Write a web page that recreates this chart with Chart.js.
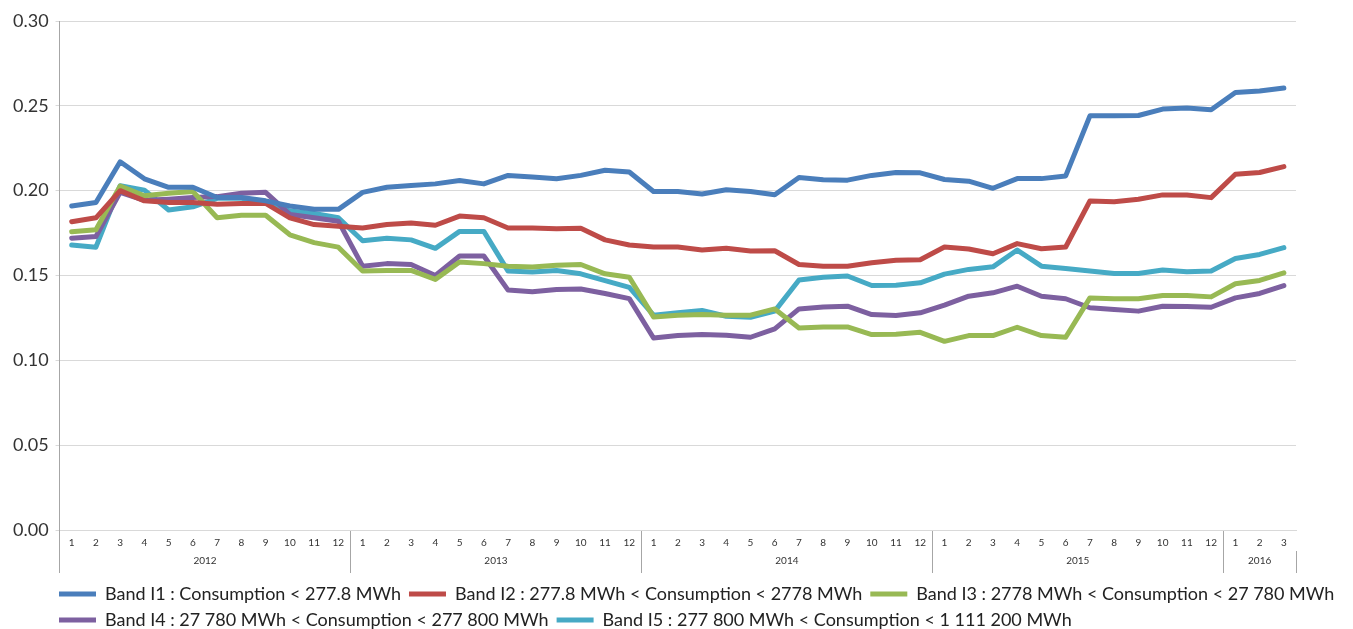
<!DOCTYPE html>
<html>
<head>
<meta charset="utf-8">
<script src="https://cdn.jsdelivr.net/npm/chart.js@4/dist/chart.umd.min.js"></script>
<style>
html, body { margin: 0; padding: 0; background: #fff; }
#wrap { width: 1353px; height: 629px; }
</style>
</head>
<body>
<div id="wrap"><canvas id="myChart"></canvas></div>
<script>
// categories
const years = ["2012", "2013", "2014", "2015", "2016"];
const monthsPerYear = [12, 12, 12, 12, 3];
const monthLabels = [];
monthsPerYear.forEach(n => { for (let m = 1; m <= n; m++) monthLabels.push(String(m)); });

// series
const bandI1 = [
  0.191, 0.193, 0.217, 0.207, 0.202, 0.202, 0.196, 0.196, 0.194, 0.191, 0.189, 0.189,
  0.199, 0.202, 0.203, 0.204, 0.206, 0.204, 0.209, 0.208, 0.207, 0.209, 0.212, 0.211,
  0.1995, 0.1995, 0.198, 0.2005, 0.1995, 0.1976, 0.2078, 0.2064, 0.2062, 0.209, 0.2107, 0.2105,
  0.2066, 0.2056, 0.2014, 0.2071, 0.2071, 0.2087, 0.2441, 0.2441, 0.2443, 0.2481, 0.2487, 0.2477,
  0.2579, 0.2587, 0.2605
];
const bandI2 = [
  0.1817, 0.184, 0.200, 0.194, 0.193, 0.193, 0.192, 0.1925, 0.1925, 0.184, 0.180, 0.179,
  0.178, 0.180, 0.181, 0.1796, 0.185, 0.184, 0.178, 0.178, 0.1776, 0.1778, 0.171, 0.168,
  0.1668, 0.1668, 0.165, 0.166, 0.1644, 0.1646, 0.1565, 0.1555, 0.1555, 0.1575, 0.159, 0.1593,
  0.1668, 0.1656, 0.1628, 0.1688, 0.1658, 0.1668, 0.1939, 0.1935, 0.1949, 0.1975, 0.1975, 0.1959,
  0.2097, 0.2107, 0.2142
];
const bandI3 = [
  0.1758, 0.177, 0.2027, 0.197, 0.1985, 0.1995, 0.184, 0.1855, 0.1855, 0.174, 0.1694, 0.1667,
  0.1526, 0.153, 0.153, 0.1477, 0.158, 0.157, 0.1555, 0.155, 0.156, 0.1565, 0.151, 0.149,
  0.1256, 0.1266, 0.127, 0.1266, 0.1266, 0.1303, 0.1191, 0.1197, 0.1197, 0.1152, 0.1154, 0.1165,
  0.1112, 0.1146, 0.1146, 0.1195, 0.1146, 0.1136, 0.1368, 0.1363, 0.1363, 0.1382, 0.1382, 0.1374,
  0.1451, 0.1471, 0.1516
];
const bandI4 = [
  0.172, 0.173, 0.199, 0.1943, 0.195, 0.196, 0.1965, 0.1985, 0.199, 0.186, 0.184, 0.182,
  0.1555, 0.157, 0.1565, 0.150, 0.1615, 0.1615, 0.1414, 0.1404, 0.1418, 0.142, 0.1394, 0.1364,
  0.1132, 0.1146, 0.1152, 0.1148, 0.1136, 0.1185, 0.1303, 0.1315, 0.1319, 0.127, 0.1264, 0.128,
  0.1325, 0.1378, 0.1398, 0.1437, 0.1378, 0.1363, 0.131, 0.130, 0.129, 0.1319, 0.1317, 0.1313,
  0.1368, 0.1394, 0.1441
];
const bandI5 = [
  0.168, 0.1667, 0.2029, 0.2003, 0.1886, 0.1905, 0.1955, 0.1955, 0.1935, 0.188, 0.1865, 0.184,
  0.1705, 0.172, 0.171, 0.166, 0.176, 0.176, 0.1526, 0.152, 0.153, 0.151, 0.147, 0.143,
  0.1266, 0.128, 0.1294, 0.126, 0.1254, 0.129, 0.1473, 0.149, 0.1497, 0.1441, 0.1443, 0.1457,
  0.1508, 0.1536, 0.1551, 0.165, 0.1555, 0.1541, 0.1526, 0.1512, 0.1512, 0.1532, 0.1522, 0.1526,
  0.16, 0.1624, 0.1664
];

const seriesNames = [
  "Band I1 : Consumption < 277.8 MWh",
  "Band I2 : 277.8 MWh < Consumption < 2778 MWh",
  "Band I3 : 2778 MWh < Consumption < 27 780 MWh",
  "Band I4 : 27 780 MWh < Consumption < 277 800 MWh",
  "Band I5 : 277 800 MWh < Consumption < 1 111 200 MWh"
];
const seriesValues = [bandI1, bandI2, bandI3, bandI4, bandI5];
const seriesColors = ["#4a7ebb", "#be4b48", "#98b954", "#7d60a0", "#46aac5"];

// year boundaries and centres on the index scale
const yearBounds = [-0.5];
const yearMids = [];
monthsPerYear.forEach(n => {
  const start = yearBounds[yearBounds.length - 1];
  yearMids.push(start + n / 2);
  yearBounds.push(start + n);
});

const FONT = "Lato, 'Open Sans', sans-serif";
const SEP = "#a6a6a6";
const NONE = "rgba(0,0,0,0)";

// nudge the legend rows right and down, like the original
const legendShift = {
  id: "legendShift",
  afterLayout(chart) {
    const lg = chart.legend;
    if (!lg) return;
    lg.left += 45;
    lg.top += 4;
    lg.bottom += 4;
  }
};

const ctx = document.getElementById("myChart").getContext("2d");

const myChart = new Chart(ctx, {
  type: "line",
  data: {
    labels: monthLabels,
    datasets: seriesValues.map((vals, i) => ({
      label: seriesNames[i],
      data: vals,
      borderColor: seriesColors[i],
      backgroundColor: seriesColors[i],
      borderWidth: 5,
      borderCapStyle: "round",
      borderJoinStyle: "round",
      pointRadius: 0,
      tension: 0,
      pointStyle: "line"
    }))
  },
  options: {
    responsive: true,
    maintainAspectRatio: false,
    animation: false,
    layout: { padding: { top: 21, left: 6, right: 0, bottom: -6 } },
    scales: {
      x: {
        type: "category",
        offset: true,
        weight: 0,
        afterFit: axis => { axis.height = 21; },
        grid: {
          offset: true,
          drawOnChartArea: false,
          drawTicks: true,
          tickLength: 22,
          lineWidth: 1,
          color: c => (c.index % 12 === 0 || c.index === monthLabels.length) ? SEP : NONE
        },
        border: { display: true, color: "#d9d9d9" },
        ticks: {
          color: "#333",
          font: { family: FONT, size: 10 },
          padding: -15,
          maxRotation: 0,
          autoSkip: false
        }
      },
      x2: {
        type: "linear",
        position: "bottom",
        weight: 1,
        min: -0.5,
        max: monthLabels.length - 0.5,
        afterFit: axis => { axis.height = 22; },
        afterBuildTicks: axis => {
          axis.ticks = yearBounds.concat(yearMids).sort((a, b) => a - b).map(v => ({ value: v }));
        },
        grid: {
          drawOnChartArea: false,
          drawTicks: true,
          tickLength: 22,
          lineWidth: 1,
          color: c => (c.tick && yearBounds.includes(c.tick.value)) ? SEP : NONE
        },
        border: { display: false },
        ticks: {
          color: "#333",
          font: { family: FONT, size: 10 },
          padding: -18,
          maxRotation: 0,
          autoSkip: false,
          callback: v => {
            const k = yearMids.indexOf(v);
            return k >= 0 ? years[k] : "";
          }
        }
      },
      y: {
        min: 0,
        max: 0.3,
        ticks: {
          stepSize: 0.05,
          color: "#333",
          font: { family: FONT, size: 18 },
          padding: 7,
          callback: v => v.toFixed(2)
        },
        grid: { color: "#d9d9d9", lineWidth: 1, tickLength: 4 },
        border: { display: true, color: SEP }
      },
      // empty right-hand margin so the plot ends where the original does
      yRight: {
        position: "right",
        min: 0,
        max: 0.3,
        afterFit: axis => { axis.width = 57; },
        grid: { display: false },
        ticks: { display: false },
        border: { display: false }
      }
    },
    plugins: {
      legend: {
        position: "bottom",
        align: "start",
        labels: {
          usePointStyle: true,
          pointStyleWidth: 37,
          boxHeight: 5,
          color: "#222",
          font: { family: FONT, size: 18 },
          padding: 8
        }
      },
      tooltip: { enabled: false }
    }
  },
  plugins: [legendShift]
});
</script>
</body>
</html>
